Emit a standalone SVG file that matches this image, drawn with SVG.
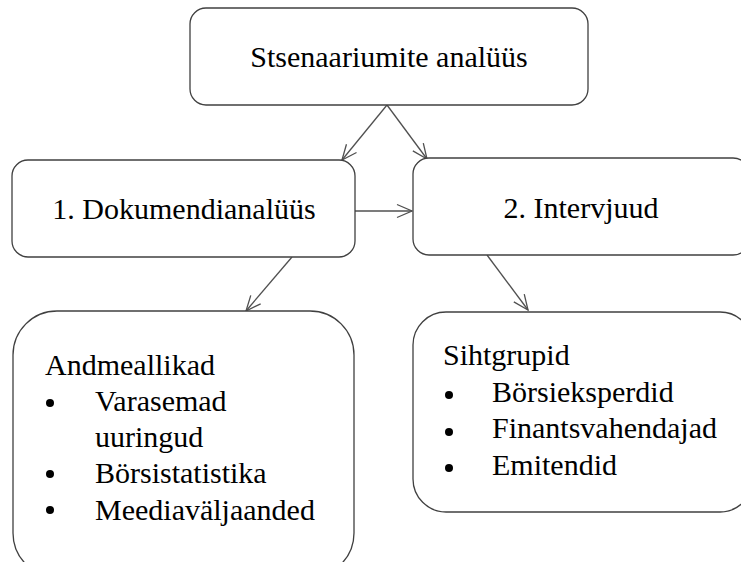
<svg xmlns="http://www.w3.org/2000/svg" width="741" height="562" viewBox="0 0 741 562">
  <style>
    .box { fill: #ffffff; stroke: #404040; stroke-width: 1.3; }
    .lbl { font-family: "Liberation Serif", "Times New Roman", serif; font-size: 30px; fill: #000000; }
    .mid { text-anchor: middle; }
    .conn { stroke: #505050; stroke-width: 1.3; fill: none; marker-end: url(#arrow); }
    .dot { fill: #000000; }
  </style>
  <defs>
    <marker id="arrow" markerUnits="userSpaceOnUse" viewBox="-16 -8 18 16" refX="0" refY="0" markerWidth="18" markerHeight="16" orient="auto">
      <path d="M-15,-6.5 L0,0 L-15,6.5" fill="none" stroke="#505050" stroke-width="1.3"/>
    </marker>
  </defs>
  <rect x="0" y="0" width="741" height="562" fill="#ffffff"/>

  <g id="connectors">
    <line class="conn" x1="387" y1="105" x2="342" y2="160"/>
    <line class="conn" x1="387" y1="105" x2="427" y2="159"/>
    <line class="conn" x1="355" y1="211" x2="412" y2="211"/>
    <line class="conn" x1="292" y1="257" x2="246" y2="311"/>
    <line class="conn" x1="487" y1="255" x2="528" y2="310"/>
  </g>

  <g id="scenario-analysis">
    <rect class="box" x="190" y="8" width="398" height="97" rx="16" ry="16"/>
    <text class="lbl mid" x="389" y="67">Stsenaariumite analüüs</text>
  </g>

  <g id="document-analysis">
    <rect class="box" x="12" y="160" width="343" height="97" rx="16" ry="16"/>
    <text class="lbl mid" x="184" y="219">1. Dokumendianalüüs</text>
  </g>

  <g id="interviews">
    <rect class="box" x="413" y="158" width="336" height="97" rx="16" ry="16"/>
    <text class="lbl mid" x="581" y="218">2. Intervjuud</text>
  </g>

  <g id="data-sources">
    <rect class="box" x="13" y="311" width="341" height="266" rx="44" ry="44"/>
    <text class="lbl" x="45" y="375">Andmeallikad</text>
    <circle class="dot" cx="50" cy="403" r="4"/>
    <text class="lbl" x="95" y="411">Varasemad</text>
    <text class="lbl" x="95" y="447">uuringud</text>
    <circle class="dot" cx="50" cy="474" r="4"/>
    <text class="lbl" x="95" y="483">Börsistatistika</text>
    <circle class="dot" cx="50" cy="510" r="4"/>
    <text class="lbl" x="95" y="520">Meediaväljaanded</text>
  </g>

  <g id="target-groups">
    <rect class="box" x="413" y="312" width="340" height="200" rx="33" ry="33"/>
    <text class="lbl" x="443" y="365">Sihtgrupid</text>
    <circle class="dot" cx="449" cy="395" r="4"/>
    <text class="lbl" x="492" y="402">Börsieksperdid</text>
    <circle class="dot" cx="449" cy="432" r="4"/>
    <text class="lbl" x="492" y="438">Finantsvahendajad</text>
    <circle class="dot" cx="449" cy="468" r="4"/>
    <text class="lbl" x="492" y="475">Emitendid</text>
  </g>
</svg>
